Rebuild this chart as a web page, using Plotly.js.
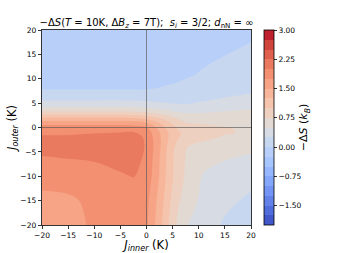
<!DOCTYPE html>
<html>
<head>
<meta charset="utf-8">
<script src="https://cdn.plot.ly/plotly-3.0.1.min.js"></script>
<style>html,body{margin:0;padding:0;background:#fff;}#chart{width:337px;height:253px;}</style>
</head>
<body>
<div id="chart"></div>
<script>
// J_inner (x) and J_outer (y) grid positions, in K
const jInner = [-20, -15, -10, -5, -2.5, 0, 1.5, 3, 4.5, 6, 8, 11, 15, 20];
const jOuter = [-20, -15, -10, -6, -4, -2, -1, 0, 1, 2, 3, 4.5, 6, 8, 11, 15, 20];

// -ΔS (k_B), one row per J_outer value
const row_m20 = [1.60, 1.68, 1.78, 1.80, 1.82, 1.80, 1.52, 1.23, 0.95, 0.70, 0.49, 0.36, 0.22, 0.15];
const row_m15 = [1.70, 1.72, 1.79, 1.84, 1.87, 1.82, 1.58, 1.30, 1.02, 0.79, 0.60, 0.43, 0.30, 0.21];
const row_m10 = [1.82, 1.83, 1.88, 1.97, 2.01, 1.88, 1.68, 1.38, 1.09, 0.87, 0.67, 0.47, 0.38, 0.32];
const row_m6  = [1.99, 2.02, 2.04, 2.10, 2.15, 1.93, 1.70, 1.41, 1.09, 0.88, 0.70, 0.60, 0.53, 0.47];
const row_m4  = [2.12, 2.13, 2.15, 2.18, 2.20, 1.96, 1.72, 1.44, 1.12, 0.92, 0.74, 0.68, 0.62, 0.57];
const row_m2  = [2.03, 2.03, 2.06, 2.12, 2.12, 1.95, 1.70, 1.45, 1.20, 1.02, 0.90, 0.80, 0.73, 0.68];
const row_m1  = [1.96, 1.96, 1.98, 2.00, 2.01, 1.90, 1.66, 1.42, 1.20, 1.03, 0.92, 0.83, 0.77, 0.72];
const row_0   = [1.88, 1.88, 1.88, 1.88, 1.86, 1.78, 1.55, 1.32, 1.12, 0.98, 0.88, 0.81, 0.76, 0.72];
const row_p1  = [1.62, 1.62, 1.62, 1.62, 1.60, 1.50, 1.35, 1.18, 1.00, 0.86, 0.74, 0.72, 0.68, 0.66];
const row_p2  = [1.25, 1.25, 1.25, 1.25, 1.22, 1.15, 1.05, 0.94, 0.82, 0.72, 0.63, 0.60, 0.60, 0.60];
const row_p3  = [0.85, 0.85, 0.85, 0.85, 0.83, 0.78, 0.72, 0.65, 0.58, 0.52, 0.49, 0.50, 0.53, 0.55];
const row_p45 = [0.42, 0.42, 0.42, 0.42, 0.41, 0.38, 0.35, 0.32, 0.30, 0.28, 0.28, 0.32, 0.39, 0.45];
const row_p6  = [0.18, 0.18, 0.18, 0.18, 0.18, 0.17, 0.16, 0.15, 0.14, 0.14, 0.15, 0.20, 0.26, 0.31];
const row_p8  = [-0.02, -0.02, -0.02, -0.02, -0.02, -0.02, 0.00, 0.01, 0.02, 0.03, 0.06, 0.10, 0.15, 0.19];
const row_p11 = [-0.10, -0.10, -0.10, -0.10, -0.10, -0.09, -0.08, -0.07, -0.05, -0.04, -0.02, 0.02, 0.07, 0.12];
const row_p15 = [-0.13, -0.13, -0.13, -0.13, -0.13, -0.12, -0.12, -0.11, -0.10, -0.09, -0.07, -0.04, -0.005, 0.04];
const row_p20 = [-0.15, -0.15, -0.15, -0.15, -0.15, -0.14, -0.14, -0.13, -0.12, -0.11, -0.10, -0.08, -0.06, -0.04];

// colorbar ticks
const cbTickVals = [-1.5, -0.75, 0, 0.75, 1.5, 2.25, 3];
const cbTickText = ['\u22121.50', '\u22120.75', '0.00', '0.75', '1.50', '2.25', '3.00'];
const xTickVals = [-20, -15, -10, -5, 0, 5, 10, 15, 20];
const yTickVals = [-20, -15, -10, -5, 0, 5, 10, 15, 20];

const zGrid = [row_m20, row_m15, row_m10, row_m6, row_m4, row_m2, row_m1, row_0, row_p1,
               row_p2, row_p3, row_p45, row_p6, row_p8, row_p11, row_p15, row_p20];

// coolwarm colormap (Moreland table, 33 points)
const CW = [[59,76,192],[68,90,204],[77,104,215],[87,117,225],[98,130,234],[108,142,241],[119,154,247],
[130,165,251],[141,176,254],[152,185,255],[163,194,255],[174,201,253],[184,208,249],[194,213,244],
[204,217,238],[213,219,230],[221,221,221],[229,216,209],[236,211,197],[241,204,185],[245,196,173],
[247,187,160],[247,177,148],[247,166,135],[244,154,123],[241,141,111],[236,127,99],[229,112,88],
[222,96,77],[213,80,66],[203,62,56],[192,40,47],[180,4,38]];
function coolwarm(t) {
  const p = Math.max(0, Math.min(1, t)) * 32;
  const i = Math.min(31, Math.floor(p));
  const f = p - i;
  const c = [0,1,2].map(j => Math.round(CW[i][j] + (CW[i+1][j] - CW[i][j]) * f));
  return 'rgb(' + c.join(',') + ')';
}
const lvStart = -2, lvEnd = 3, lvSize = 0.25;
const nBands = Math.round((lvEnd - lvStart) / lvSize);
const nc = nBands + 1;
const cscale = [];
for (let k = 0; k < nBands; k++) {
  const col = coolwarm((k + 0.5) / nBands);
  const a = k === 0 ? 0 : (k + 0.5) / nc;
  const b = k === nBands - 1 ? 1 : (k + 1.5) / nc;
  cscale.push([a, col]);
  cscale.push([b, col]);
}

const FONT = 'DejaVu Sans, Arial, sans-serif';

const trace = {
  type: 'contour',
  x: jInner,
  y: jOuter,
  z: zGrid,
  zmin: lvStart,
  zmax: lvEnd,
  autocontour: false,
  contours: {start: lvStart, end: lvEnd, size: lvSize, coloring: 'fill', showlines: false},
  line: {width: 0, smoothing: 1},
  colorscale: cscale,
  colorbar: {
    x: 1.062, xanchor: 'left', xpad: 0,
    y: 0.5, yanchor: 'middle', ypad: 0,
    len: 1, lenmode: 'fraction', thickness: 10, thicknessmode: 'pixels',
    outlinewidth: 0.8, outlinecolor: '#000',
    ticks: 'outside', ticklen: 3, tickwidth: 0.8, tickcolor: '#000',
    tickvals: cbTickVals, ticktext: cbTickText,
    tickfont: {family: FONT, size: 7.5, color: '#000'},
    title: {text: '\u2212\u0394<i>S</i> (<i>k</i><sub><i>B</i></sub>)', side: 'right',
            font: {family: FONT, size: 11, color: '#000'}}
  },
  hoverinfo: 'skip'
};

const layout = {
  width: 337, height: 253,
  margin: {l: 42, r: 86, t: 30, b: 28, pad: 0},
  paper_bgcolor: '#fff', plot_bgcolor: '#fff',
  font: {family: FONT, color: '#000'},
  showlegend: false,
  title: {
    text: '\u2212\u0394<i>S</i>(<i>T</i> = 10K, \u0394<i>B</i><sub><i>z</i></sub> = 7T);\u00a0 <i>s</i><sub><i>i</i></sub> = 3/2; <i>d</i><sub>nN</sub> = \u221e',
    font: {family: FONT, size: 10, color: '#000'},
    x: 0.5, xref: 'paper', xanchor: 'center',
    y: 1, yref: 'paper', yanchor: 'bottom', pad: {b: 4}
  },
  xaxis: {
    range: [-20, 20], tickvals: xTickVals, ticks: 'outside', ticklen: 3.5, tickwidth: 0.8, tickcolor: '#000',
    tickfont: {family: FONT, size: 7.5, color: '#000'},
    showline: true, mirror: true, linecolor: '#000', linewidth: 0.8,
    showgrid: false, zeroline: false,
    title: {text: '<i>J</i><sub><i>inner</i></sub> (K)', font: {family: FONT, size: 11.5, color: '#000'}, standoff: 2}
  },
  yaxis: {
    range: [-20, 20], tickvals: yTickVals, ticks: 'outside', ticklen: 3.5, tickwidth: 0.8, tickcolor: '#000',
    tickfont: {family: FONT, size: 7.5, color: '#000'},
    showline: true, mirror: true, linecolor: '#000', linewidth: 0.8,
    showgrid: false, zeroline: false,
    title: {text: '<i>J</i><sub><i>outer</i></sub> (K)', font: {family: FONT, size: 11.5, color: '#000'}, standoff: 1}
  },
  shapes: [
    {type: 'line', xref: 'x', yref: 'y', x0: 0, x1: 0, y0: -20, y1: 20, line: {color: 'rgba(90,90,90,0.75)', width: 0.9}},
    {type: 'line', xref: 'x', yref: 'y', x0: -20, x1: 20, y0: 0, y1: 0, line: {color: 'rgba(90,90,90,0.75)', width: 0.9}}
  ]
};

Plotly.newPlot('chart', [trace], layout, {staticPlot: true, displayModeBar: false});
</script>
</body>
</html>
